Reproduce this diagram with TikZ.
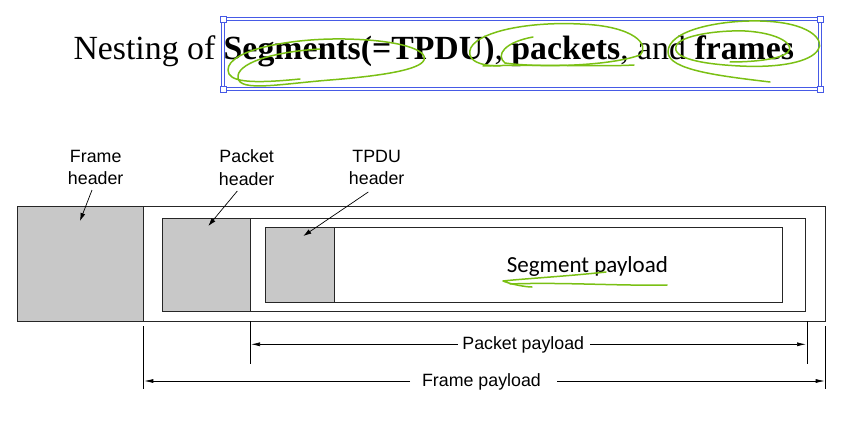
\documentclass[tikz,border=0pt]{standalone}
\usepackage{fontspec}
\setmainfont{Liberation Serif}
\newfontfamily\arialf{Liberation Sans}
\newfontfamily\calibf{Carlito}
\usetikzlibrary{arrows.meta}
\definecolor{hdrgray}{RGB}{200,200,200}
\definecolor{scribble}{RGB}{122,192,20}
\definecolor{selblue}{RGB}{70,90,230}
\begin{document}
\begin{tikzpicture}[x=1pt,y=-1pt,
  box/.style={draw=black!85, line width=0.9pt},
  hdr/.style={box, fill=hdrgray},
  lbl/.style={font=\arialf\fontsize{17.8}{22.3}\selectfont, align=center, inner sep=0pt},
  dimtext/.style={font=\arialf\fontsize{17.8}{22}\selectfont, inner sep=0pt},
  ptr/.style={-{Latex[length=8pt,width=5pt]}, line width=0.7pt},
  dimarrow/.style={-{Latex[length=9pt,width=4pt]}, line width=0.7pt},
  ext/.style={line width=0.7pt},
  scrib/.style={draw=scribble, line width=1.5pt, line cap=round, line join=round},
  handle/.style={draw=selblue, fill=white, line width=0.7pt, minimum size=6pt, inner sep=0pt}
]
\path[use as bounding box] (0,0) rectangle (865,428);

% title
\node[anchor=base west, inner sep=0pt, font=\fontsize{33.8}{40}\selectfont] (title) at (73.3,59.3)
  {Nesting of \textbf{Segments(=TPDU)}, \textbf{packets}, and \textbf{frames}};

% selection box
\draw[selblue, line width=0.8pt, double=white, double distance=1.6pt] (223,19) rectangle (820,89);
\node[handle] (h1) at (223,19) {};
\node[handle] (h2) at (820,19) {};
\node[handle] (h3) at (223,89) {};
\node[handle] (h4) at (820,89) {};

% green scribbles on title
\draw[scrib] (300,79) .. controls (250,84) and (228,82) .. (228,70)
  .. controls (228,50) and (290,38) .. (345,39)
  .. controls (400,40) and (428,50) .. (424,60)
  .. controls (420,70) and (380,76) .. (330,80)
  .. controls (280,84) and (240,92) .. (238,78)
  .. controls (236,64) and (270,52) .. (320,49);
\draw[scrib] (533,37) .. controls (505,42) and (495,55) .. (505,63)
  .. controls (540,68) and (610,66) .. (640,55)
  .. controls (650,45) and (635,26) .. (580,24)
  .. controls (520,21) and (465,35) .. (470,55)
  .. controls (472,63) and (485,66) .. (500,66);
\draw[scrib] (483,66) .. controls (540,64) and (600,67) .. (634,65);
\draw[scrib] (770,82) .. controls (720,76) and (668,70) .. (668,52)
  .. controls (668,30) and (720,20) .. (760,21)
  .. controls (810,22) and (825,40) .. (818,50)
  .. controls (810,62) and (780,68) .. (740,66)
  .. controls (700,64) and (672,58) .. (676,46)
  .. controls (680,35) and (720,30) .. (745,31)
  .. controls (780,33) and (795,45) .. (788,52)
  .. controls (780,60) and (750,62) .. (730,62);

% frame
\draw[box] (17.3,206.7) rectangle (825.7,321.7);
\draw[hdr] (17.3,206.7) rectangle (143.3,321.7);
% packet
\draw[box] (162.3,218.7) rectangle (805,311.7);
\draw[hdr] (162.3,218.7) rectangle (250.3,311.7);
% TPDU
\draw[box] (265.3,227.7) rectangle (782.3,302.3);
\draw[hdr] (265.3,227.7) rectangle (334,302.3);

% header labels
\node[lbl] (fh) at (95.7,167.5) {Frame\\header};
\node[lbl] (ph) at (246.7,167.5) {Packet\\header};
\node[lbl] (th) at (376.7,167.5) {TPDU\\header};
\coordinate (fhS) at (92,190);   \coordinate (fhT) at (80,221);
\coordinate (phS) at (237.3,191); \coordinate (phT) at (208.3,226);
\coordinate (thS) at (368.3,192); \coordinate (thT) at (303.3,236);
\draw[ptr] (fhS) -- (fhT);
\draw[ptr] (phS) -- (phT);
\draw[ptr] (thS) -- (thT);

% segment payload
\node[anchor=base west, inner sep=0pt, font=\calibf\fontsize{23}{28}\selectfont] (sp) at (506.7,272.7) {Segment payload};
\draw[scrib] (606,272) .. controls (570,276) and (520,279) .. (503,281)
  .. controls (510,284) and (525,287) .. (532,287);
\draw[scrib] (510,284) .. controls (560,282) and (620,286) .. (667,285);

% packet payload dimension
\coordinate (pl1) at (250.3,321); \coordinate (pl2) at (250.3,364);
\coordinate (pr1) at (807,321);   \coordinate (pr2) at (807,364);
\draw[ext] (pl1) -- (pl2);
\draw[ext] (pr1) -- (pr2);
\node[dimtext, anchor=base west] (pp) at (462.2,349.3) {Packet payload};
\coordinate (ppa) at (251,344.3); \coordinate (ppb) at (806,344.3);
\coordinate (ppg1) at (457.5,344.3); \coordinate (ppg2) at (589.9,344.3);
\draw[dimarrow] (ppg1) -- (ppa);
\draw[dimarrow] (ppg2) -- (ppb);

% frame payload dimension
\coordinate (fl1) at (143.3,326); \coordinate (fl2) at (143.3,389);
\coordinate (fr1) at (825.7,326); \coordinate (fr2) at (825.7,389);
\draw[ext] (fl1) -- (fl2);
\draw[ext] (fr1) -- (fr2);
\node[dimtext, anchor=base west] (fp) at (421.9,386) {Frame payload};
\coordinate (fpa) at (144.3,381); \coordinate (fpb) at (824.7,381);
\coordinate (fpg1) at (410.2,381); \coordinate (fpg2) at (557,381);
\draw[dimarrow] (fpg1) -- (fpa);
\draw[dimarrow] (fpg2) -- (fpb);
\end{tikzpicture}
\end{document}
